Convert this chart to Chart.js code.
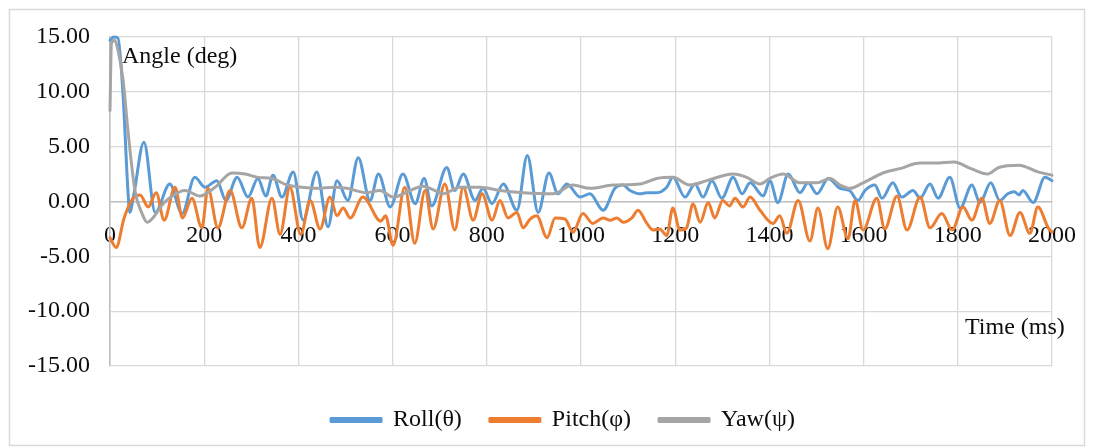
<!DOCTYPE html>
<html>
<head>
<meta charset="utf-8">
<title>Angle vs time</title>
<script src="https://cdn.jsdelivr.net/npm/chart.js@4.4.1/dist/chart.umd.min.js"></script>
<style>
  html, body { margin: 0; padding: 0; background: #ffffff; }
  #wrap { width: 1093px; height: 448px; }
</style>
</head>
<body>
<div id="wrap"><canvas id="chart" width="1093" height="448"></canvas></div>
<script>
// Sampled attitude angles (deg) against time (ms)
const rollTime = [0, 8, 17, 28, 38, 42, 50, 72, 96, 127, 153, 180, 202, 227, 246, 270, 293, 314, 331, 346, 365, 389, 410, 439, 463, 482, 505, 527, 552, 570, 595, 622, 648, 667, 683, 715, 732, 750, 775, 792, 811, 835, 864, 886, 909, 932, 951, 970, 998, 1019, 1047, 1072, 1089, 1104, 1125, 1140, 1161, 1182, 1195, 1221, 1242, 1259, 1278, 1299, 1323, 1342, 1359, 1387, 1401, 1418, 1440, 1465, 1482, 1501, 1525, 1550, 1570, 1588, 1603, 1624, 1639, 1662, 1681, 1705, 1720, 1741, 1758, 1783, 1805, 1830, 1847, 1870, 1889, 1906, 1920, 1930, 1938, 1960, 1985, 2000];
const rollDeg = [14.7, 15.0, 14.9, 9.5, 1.0, -1.0, 0.5, 5.4, -1.0, 1.6, -1.1, 2.2, 1.3, 1.9, 0.1, 2.2, 0.4, 2.1, 0.5, 2.4, 0.4, 2.7, -1.7, 2.7, -2.3, 1.9, 0.1, 4.0, 0.1, 2.5, -0.5, 2.5, -0.2, 2.1, -0.4, 3.1, 1.0, 2.5, 0.1, 1.2, -0.2, 1.6, -0.8, 4.2, -1.0, 2.6, 0.7, 1.6, 0.4, 0.7, -0.8, 1.2, 1.5, 1.0, 0.7, 0.8, 0.8, 1.3, 2.2, 0.4, 1.6, 0.4, 1.9, 0.3, 2.2, 0.7, 1.7, 0.5, 1.9, -0.1, 2.5, 0.8, 1.7, 0.7, 2.1, 1.2, 1.0, 0.1, 1.0, 1.5, 0.3, 1.7, 0.4, 1.0, 0.3, 1.6, 0.3, 2.2, -0.6, 1.5, -0.1, 1.7, 0.1, 0.7, 0.9, 0.6, 1.0, -0.1, 2.2, 1.9];

const pitchTime = [0, 13, 30, 49, 64, 81, 98, 115, 138, 154, 174, 195, 208, 229, 255, 280, 301, 318, 344, 361, 382, 405, 425, 446, 467, 482, 495, 510, 537, 575, 585, 601, 626, 647, 669, 686, 711, 732, 750, 771, 790, 811, 828, 845, 864, 877, 892, 906, 928, 945, 966, 983, 1004, 1025, 1047, 1062, 1076, 1090, 1108, 1121, 1140, 1153, 1167, 1182, 1195, 1210, 1224, 1238, 1253, 1270, 1284, 1301, 1315, 1327, 1344, 1359, 1380, 1408, 1422, 1437, 1461, 1486, 1503, 1524, 1545, 1567, 1582, 1599, 1628, 1645, 1671, 1692, 1720, 1741, 1766, 1788, 1811, 1830, 1851, 1868, 1889, 1911, 1932, 1953, 1970, 1992, 2000];
const pitchDeg = [-3.3, -4.2, -1.5, 0.3, 0.6, -0.5, 0.8, -1.7, 1.3, -1.5, 0.3, -2.4, 1.2, -2.4, 1.0, -2.4, 0.3, -4.2, 0.3, -3.0, 1.3, -3.0, 0.1, -2.5, 0.4, -1.3, -0.6, -1.5, 0.4, -1.8, -1.3, -4.0, 1.3, -3.8, 1.0, -2.5, 1.6, -2.6, 1.3, -1.7, 0.7, -1.7, 0.1, -1.5, -1.0, -2.4, -1.6, -1.3, -3.3, -1.5, -1.6, -2.8, -1.1, -2.0, -1.5, -1.7, -1.5, -1.9, -1.5, -0.8, -2.0, -2.6, -2.5, -3.1, -0.6, -2.6, -2.4, -0.2, -1.9, -0.1, -1.5, 0.1, -0.4, 0.3, -0.5, 0.4, -0.8, -2.0, -1.3, -2.9, 0.1, -3.6, -0.6, -4.3, -0.5, -3.4, 0.1, -2.6, 0.3, -2.5, 0.5, -2.6, 0.4, -2.4, -1.1, -2.6, -0.5, -1.7, 0.3, -2.0, 0.1, -3.1, -1.0, -2.9, -0.5, -2.4, -2.8];

const yawTime = [0, 3, 10, 17, 28, 38, 53, 68, 79, 91, 113, 132, 159, 191, 223, 259, 287, 314, 344, 376, 389, 439, 476, 503, 545, 573, 601, 637, 664, 690, 707, 743, 786, 828, 877, 941, 983, 1019, 1068, 1125, 1161, 1195, 1231, 1267, 1323, 1352, 1380, 1401, 1429, 1465, 1501, 1529, 1550, 1571, 1599, 1641, 1677, 1720, 1751, 1792, 1828, 1863, 1887, 1930, 1970, 2000];
const yawDeg = [8.3, 14.4, 14.7, 13.8, 11.0, 6.5, 1.0, -1.1, -1.9, -1.5, -0.2, 0.5, 1.0, 0.5, 1.3, 2.6, 2.5, 2.2, 2.1, 1.5, 1.4, 1.2, 1.3, 1.2, 0.8, 1.0, 0.4, 1.0, 1.4, 1.0, 0.7, 1.3, 1.3, 1.0, 0.8, 0.7, 1.5, 1.2, 1.5, 1.6, 2.1, 2.2, 1.5, 1.9, 2.5, 2.2, 1.6, 2.1, 2.5, 1.7, 1.7, 2.1, 1.5, 1.2, 1.7, 2.6, 3.0, 3.5, 3.5, 3.6, 3.0, 2.5, 3.1, 3.3, 2.7, 2.4];

const seriesNames = ['Roll(θ)', 'Pitch(φ)', 'Yaw(ψ)'];
const seriesColors = ['#5b9bd5', '#ed7d31', '#a5a5a5'];
const xTitle = 'Time (ms)';
const yTitle = 'Angle (deg)';
const xTicks = { min: 0, max: 2000, step: 200 };
const yTicks = { min: -15, max: 15, step: 5 };

const FONT = "'Liberation Serif', 'Times New Roman', serif";
const TEXT = '#0d0d0d';

function toPoints(xs, ys) {
  return xs.map((x, i) => ({ x: x, y: ys[i] }));
}

// White background and the light outer frame of the chart
const frame = {
  id: 'frame',
  beforeDraw(chart) {
    const { ctx, width, height } = chart;
    ctx.save();
    ctx.fillStyle = '#ffffff';
    ctx.fillRect(0, 0, width, height);
    ctx.strokeStyle = '#d9d9d9';
    ctx.lineWidth = 1.5;
    ctx.strokeRect(9.5, 9.5, 1075, 436);
    ctx.restore();
  }
};

// Axis names placed inside the plot area
const axisNames = {
  id: 'axisNames',
  afterDatasetsDraw(chart) {
    const { ctx, chartArea } = chart;
    ctx.save();
    ctx.font = '24px ' + FONT;
    ctx.fillStyle = TEXT;
    ctx.textAlign = 'left';
    ctx.textBaseline = 'middle';
    ctx.fillText(yTitle, chartArea.left + 12, chartArea.top + 20);
    ctx.fillText(xTitle, chartArea.right - 87, chartArea.bottom - 38);
    ctx.restore();
  }
};

// Move the legend row a little lower and to the right of its layout box
const legendShift = {
  id: 'legendShift',
  afterLayout(chart) {
    const l = chart.legend;
    if (l) {
      l.top += 14; l.bottom += 14;
      l.left += 32; l.right += 32;
    }
  }
};

const datasets = [
  { label: seriesNames[0], data: toPoints(rollTime, rollDeg), borderColor: seriesColors[0], backgroundColor: seriesColors[0], order: 3 },
  { label: seriesNames[1], data: toPoints(pitchTime, pitchDeg), borderColor: seriesColors[1], backgroundColor: seriesColors[1], order: 2 },
  { label: seriesNames[2], data: toPoints(yawTime, yawDeg), borderColor: seriesColors[2], backgroundColor: seriesColors[2], order: 1 }
];

new Chart(document.getElementById('chart'), {
  type: 'line',
  data: { datasets: datasets },
  plugins: [frame, axisNames, legendShift],
  options: {
    responsive: false,
    animation: false,
    devicePixelRatio: 1,
    layout: { padding: { left: 10, right: 41, top: 37, bottom: 20 } },
    elements: {
      point: { radius: 0, hoverRadius: 0 },
      line: { borderWidth: 3, cubicInterpolationMode: 'monotone', borderCapStyle: 'round', borderJoinStyle: 'round', fill: false }
    },
    datasets: { line: { clip: 4 } },
    scales: {
      x: {
        type: 'linear',
        min: xTicks.min,
        max: xTicks.max,
        position: { y: 0 },
        ticks: {
          stepSize: xTicks.step,
          maxRotation: 0,
          autoSkip: false,
          padding: 0,
          color: TEXT,
          font: { family: FONT, size: 24 },
          callback: (v) => String(v)
        },
        // invisible tick marks keep the labels clear of the zero line
        grid: { color: '#d9d9d9', lineWidth: 1.3, drawTicks: true, tickLength: 20, tickColor: 'rgba(0,0,0,0)' },
        border: { color: '#bfbfbf', width: 1.6 }
      },
      y: {
        type: 'linear',
        min: yTicks.min,
        max: yTicks.max,
        afterFit(scale) { scale.width = 100; },
        ticks: {
          stepSize: yTicks.step,
          padding: 20,
          color: TEXT,
          font: { family: FONT, size: 24 },
          callback: (v) => Number(v).toFixed(2)
        },
        grid: { color: '#d9d9d9', lineWidth: 1.3, drawTicks: false },
        border: { color: '#bfbfbf', width: 1.6 }
      }
    },
    plugins: {
      legend: {
        position: 'bottom',
        labels: {
          boxWidth: 50,
          boxHeight: 3,
          padding: 28,
          color: TEXT,
          font: { family: FONT, size: 24 },
          sort: (a, b) => a.datasetIndex - b.datasetIndex
        }
      },
      tooltip: { enabled: false }
    }
  }
});
</script>
</body>
</html>
